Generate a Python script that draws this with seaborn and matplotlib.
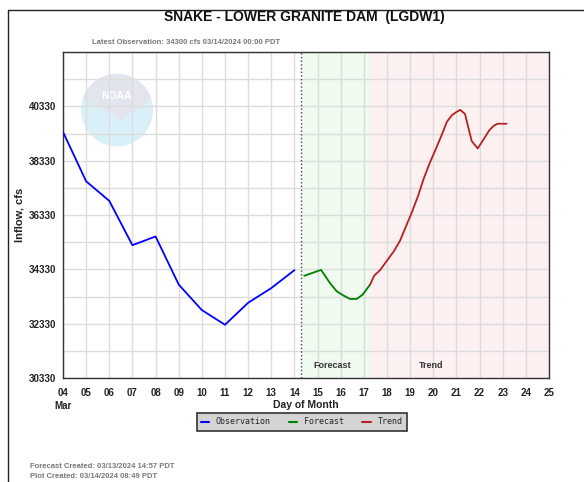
import pandas as pd
import matplotlib
matplotlib.use('Agg')
import matplotlib.pyplot as plt
import matplotlib.transforms as mtransforms
from matplotlib.patches import Ellipse, Polygon
from matplotlib.lines import Line2D
import seaborn as sns

# observed inflow (daily, Mar 04 - Mar 14)
obs_day = [4, 5, 6, 7, 8, 9, 10, 11, 12, 13, 14]
obs_cfs = [39390, 37570, 36850, 35220, 35540, 33770, 32830, 32290, 33100, 33640, 34300]

# forecast
fc_day = [14.42, 15.15, 15.54, 15.83, 16.11, 16.40, 16.69, 16.95, 17.27]
fc_cfs = [34090, 34310, 33820, 33520, 33370, 33240, 33240, 33400, 33770]

# trend
tr_day = [17.27, 17.45, 17.70, 17.99, 18.30, 18.56, 18.80, 19.07, 19.35, 19.57, 19.85,
          20.15, 20.40, 20.58, 20.80, 21.00, 21.16, 21.37, 21.66, 21.92, 22.20, 22.42,
          22.62, 22.78, 23.17]
tr_cfs = [33770, 34100, 34300, 34640, 35000, 35380, 35870, 36420, 37050, 37630, 38250,
          38840, 39350, 39750, 40000, 40120, 40200, 40050, 39050, 38780, 39150, 39450,
          39620, 39690, 39690]

day_ticks = list(range(4, 26))
day_labels = ['04\nMar'] + ['%02d' % d for d in range(5, 26)]
y_major = [30330, 32330, 34330, 36330, 38330, 40330]
y_minor = list(range(30330, 42331, 1000))
now_day = 14.3
trend_start = 17.27

series_colors = {'Observation': '#0000ff', 'Forecast': '#008000', 'Trend': '#b22222'}

df = pd.concat([
    pd.DataFrame({'day': obs_day, 'cfs': obs_cfs, 'series': 'Observation'}),
    pd.DataFrame({'day': fc_day, 'cfs': fc_cfs, 'series': 'Forecast'}),
    pd.DataFrame({'day': tr_day, 'cfs': tr_cfs, 'series': 'Trend'}),
], ignore_index=True)

sns.set_theme(style='whitegrid')
plt.rcParams['font.family'] = ['Liberation Sans', 'DejaVu Sans']

W, H = 584, 482
fig = plt.figure(figsize=(W / 100, H / 100), dpi=100)
ax = fig.add_axes([63 / W, 104 / H, 486 / W, 326 / H])
ax.set_facecolor('white')

# shaded forecast / trend zones
ax.axvspan(now_day, trend_start, color='#effbef', zorder=0, lw=0)
ax.axvspan(trend_start, 25, color='#fdf0f0', zorder=0, lw=0)
ax.axvline(now_day, color='#444444', ls=':', lw=1, zorder=2)

# faded NOAA logo behind the grid
def px(x, y):
    return ((x - 63) / 486, (378 - y) / 326)

ax.add_patch(Ellipse(px(117, 110), 72 / 486, 73 / 326, transform=ax.transAxes,
                     color='#daf0f9', zorder=0.2, lw=0))
gull = [(83, 98), (88, 88), (97, 80), (107, 75), (117, 74), (127, 75), (137, 80),
        (146, 88), (151, 97), (141, 108), (128, 114), (120, 122), (116, 116),
        (104, 110), (92, 104)]
ax.add_patch(Polygon([px(*p) for p in gull], closed=True, transform=ax.transAxes,
                     facecolor='#e2e5ed', edgecolor='none', zorder=0.3))
ax.text(*px(117, 96), 'NOAA', transform=ax.transAxes, ha='center', va='center',
        fontsize=7.5, fontweight='bold', color='white', zorder=0.4)

sns.lineplot(data=df, x='day', y='cfs', hue='series', palette=series_colors,
             estimator=None, sort=False, linewidth=1.3, legend=False, ax=ax, zorder=3)

ax.set_xlim(4, 25)
ax.set_ylim(30330, 42150)
ax.set_xticks(day_ticks)
ax.set_xticklabels(day_labels, fontweight='bold', linespacing=1.45)
ax.set_yticks(y_major)
ax.set_yticklabels([str(v) for v in y_major], fontweight='bold')
ax.set_yticks(y_minor, minor=True)
ax.grid(which='both', axis='y', color='#dcdcdc', lw=1)
ax.grid(which='major', axis='x', color='#dcdcdc', lw=1)
ax.tick_params(axis='both', which='both', direction='out', length=4, width=1,
               color='#333333', labelsize=7, labelcolor='#222222')
ax.tick_params(axis='x', pad=3)
ax.tick_params(axis='y', pad=1)
for s in ax.spines.values():
    s.set_visible(True)
    s.set_color('#333333')
    s.set_linewidth(1)

ax.set_xlabel('Day of Month', fontsize=7.5, fontweight='bold', color='#222222')
ax.xaxis.set_label_coords(0.5, (378 - 400) / 326)
ax.set_ylabel('Inflow, cfs', fontsize=8, fontweight='bold', color='#222222')
ax.yaxis.set_label_coords((25 - 63) / 486, 0.5)

tb = mtransforms.blended_transform_factory(ax.transData, ax.transAxes)
ax.text((now_day + trend_start) / 2 - 0.15, 0.037, 'Forecast', transform=tb, ha='center',
        va='center', fontsize=6.5, fontweight='bold', color='#333333')
ax.text(19.9, 0.037, 'Trend', transform=tb, ha='center', va='center',
        fontsize=6.5, fontweight='bold', color='#333333')

# legend
handles = [Line2D([], [], color=c, lw=1.5) for c in series_colors.values()]
leg = fig.legend(handles, list(series_colors.keys()), loc='center',
                 bbox_to_anchor=(301.5 / W, 1 - 422 / H), ncol=3,
                 prop={'family': 'DejaVu Sans Mono', 'size': 6}, frameon=True,
                 fancybox=False, edgecolor='#333333', facecolor='#d4d4d4', framealpha=1,
                 handlelength=1.0, columnspacing=2.2, borderpad=0.5, handletextpad=0.8)
leg.get_frame().set_linewidth(1.2)

# titles and notes
fig.text(304 / W, 1 - 17 / H, 'SNAKE - LOWER GRANITE DAM  (LGDW1)', ha='center',
         va='center', fontsize=10, fontweight='bold', color='#111111')
fig.text(92 / W, 1 - 43 / H, 'Latest Observation: 34300 cfs 03/14/2024 00:00 PDT',
         ha='left', va='center', fontsize=5.5, fontweight='bold', color='#777777')
fig.text(30 / W, 1 - 466 / H, 'Forecast Created: 03/13/2024 14:57 PDT', ha='left',
         va='center', fontsize=5.5, fontweight='bold', color='#777777')
fig.text(30 / W, 1 - 476 / H, 'Plot Created: 03/14/2024 08:49 PDT', ha='left',
         va='center', fontsize=5.5, fontweight='bold', color='#777777')

# outer frame
fig.add_artist(Line2D([8 / W, 8 / W], [0, 1 - 10 / H], transform=fig.transFigure,
                      color='#222222', lw=1))
fig.add_artist(Line2D([8 / W, 1], [1 - 10 / H, 1 - 10 / H], transform=fig.transFigure,
                      color='#222222', lw=1))

fig.savefig('out.png', dpi=100)
